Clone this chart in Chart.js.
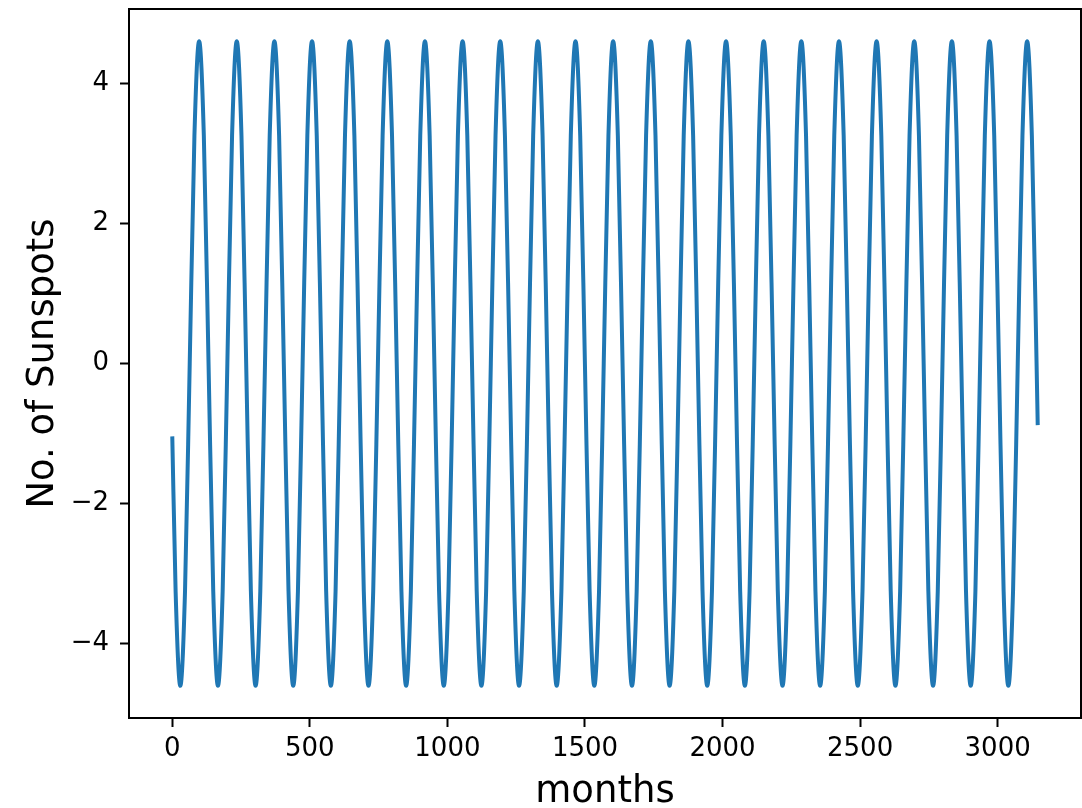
<!DOCTYPE html>
<html lang="en">
<head>
  <meta charset="UTF-8" />
  <title>Sunspots</title>
  <style>
body {
    margin: 0;
    background: #ffffff;
}

#wrap {
    width: 1082px;
    height: 808px;
}
  </style>
</head>
<body>

  <div id="wrap">
    <canvas id="sunChart" width="1082" height="808"></canvas>
  </div>

  <script src="https://cdn.jsdelivr.net/npm/chart.js"></script>

  <script>
    // month index of each sample
    const months = [
      0, 12.1,
      29.2, 46.3, 63.4, 80.5, 97.6, 114.7, 131.8, 148.9,
      166.0, 183.1, 200.2, 217.3, 234.4, 251.5, 268.6, 285.7,
      302.8, 319.9, 337.0, 354.1, 371.2, 388.3, 405.4, 422.5,
      439.6, 456.7, 473.8, 490.9, 508.0, 525.1, 542.2, 559.3,
      576.4, 593.5, 610.6, 627.7, 644.8, 661.9, 679.0, 696.1,
      713.2, 730.3, 747.4, 764.5, 781.6, 798.7, 815.8, 832.9,
      850.0, 867.1, 884.2, 901.3, 918.4, 935.5, 952.6, 969.7,
      986.8, 1003.9, 1021.0, 1038.1, 1055.2, 1072.3, 1089.4, 1106.5,
      1123.6, 1140.7, 1157.8, 1174.9, 1192.0, 1209.1, 1226.2, 1243.3,
      1260.4, 1277.5, 1294.6, 1311.7, 1328.8, 1345.9, 1363.0, 1380.1,
      1397.2, 1414.3, 1431.4, 1448.5, 1465.6, 1482.7, 1499.8, 1516.9,
      1534.0, 1551.1, 1568.2, 1585.3, 1602.4, 1619.5, 1636.6, 1653.7,
      1670.8, 1687.9, 1705.0, 1722.1, 1739.2, 1756.3, 1773.4, 1790.5,
      1807.6, 1824.7, 1841.8, 1858.9, 1876.0, 1893.1, 1910.2, 1927.3,
      1944.4, 1961.5, 1978.6, 1995.7, 2012.8, 2029.9, 2047.0, 2064.1,
      2081.2, 2098.3, 2115.4, 2132.5, 2149.6, 2166.7, 2183.8, 2200.9,
      2218.0, 2235.1, 2252.2, 2269.3, 2286.4, 2303.5, 2320.6, 2337.7,
      2354.8, 2371.9, 2389.0, 2406.1, 2423.2, 2440.3, 2457.4, 2474.5,
      2491.6, 2508.7, 2525.8, 2542.9, 2560.0, 2577.1, 2594.2, 2611.3,
      2628.4, 2645.5, 2662.6, 2679.7, 2696.8, 2713.9, 2731.0, 2748.1,
      2765.2, 2782.3, 2799.4, 2816.5, 2833.6, 2850.7, 2867.8, 2884.9,
      2902.0, 2919.1, 2936.2, 2953.3, 2970.4, 2987.5, 3004.6, 3021.7,
      3038.8, 3055.9, 3073.0, 3090.1, 3107.2, 3124.3, 3141.4,
      3145.6
    ];

    // fitted sunspot cycle value at each sample
    const sunspots = [
      -1.04, -3.25,
      -4.6, -3.25, 0, 3.25, 4.6, 3.25, 0, -3.25,
      -4.6, -3.25, 0, 3.25, 4.6, 3.25, 0, -3.25,
      -4.6, -3.25, 0, 3.25, 4.6, 3.25, 0, -3.25,
      -4.6, -3.25, 0, 3.25, 4.6, 3.25, 0, -3.25,
      -4.6, -3.25, 0, 3.25, 4.6, 3.25, 0, -3.25,
      -4.6, -3.25, 0, 3.25, 4.6, 3.25, 0, -3.25,
      -4.6, -3.25, 0, 3.25, 4.6, 3.25, 0, -3.25,
      -4.6, -3.25, 0, 3.25, 4.6, 3.25, 0, -3.25,
      -4.6, -3.25, 0, 3.25, 4.6, 3.25, 0, -3.25,
      -4.6, -3.25, 0, 3.25, 4.6, 3.25, 0, -3.25,
      -4.6, -3.25, 0, 3.25, 4.6, 3.25, 0, -3.25,
      -4.6, -3.25, 0, 3.25, 4.6, 3.25, 0, -3.25,
      -4.6, -3.25, 0, 3.25, 4.6, 3.25, 0, -3.25,
      -4.6, -3.25, 0, 3.25, 4.6, 3.25, 0, -3.25,
      -4.6, -3.25, 0, 3.25, 4.6, 3.25, 0, -3.25,
      -4.6, -3.25, 0, 3.25, 4.6, 3.25, 0, -3.25,
      -4.6, -3.25, 0, 3.25, 4.6, 3.25, 0, -3.25,
      -4.6, -3.25, 0, 3.25, 4.6, 3.25, 0, -3.25,
      -4.6, -3.25, 0, 3.25, 4.6, 3.25, 0, -3.25,
      -4.6, -3.25, 0, 3.25, 4.6, 3.25, 0, -3.25,
      -4.6, -3.25, 0, 3.25, 4.6, 3.25, 0, -3.25,
      -4.6, -3.25, 0, 3.25, 4.6, 3.25, 0, -3.25,
      -4.6, -3.25, 0, 3.25, 4.6, 3.25, 0,
      -0.88
    ];

    const xTicks = [0, 500, 1000, 1500, 2000, 2500, 3000];
    const xTickLabels = ['0', '500', '1000', '1500', '2000', '2500', '3000'];
    const yTicks = [-4, -2, 0, 2, 4];
    const yTickLabels = ['\u22124', '\u22122', '0', '2', '4'];

    const FONT = "'DejaVu Sans', sans-serif";

    // closes the box (top + right spines) and writes the axis titles
    const frameAndTitles = {
      id: 'frameAndTitles',
      afterDraw(chart) {
        const { ctx, chartArea } = chart;
        ctx.save();
        ctx.strokeStyle = '#000';
        ctx.lineWidth = 2;
        ctx.strokeRect(chartArea.left, chartArea.top,
          chartArea.right - chartArea.left, chartArea.bottom - chartArea.top);

        ctx.fillStyle = '#000';
        ctx.font = '37px ' + FONT;
        ctx.textAlign = 'center';
        ctx.textBaseline = 'alphabetic';
        ctx.fillText('months', (chartArea.left + chartArea.right) / 2, 802);

        ctx.translate(53, (chartArea.top + chartArea.bottom) / 2);
        ctx.rotate(-Math.PI / 2);
        ctx.fillText('No. of Sunspots', 0, 0);
        ctx.restore();
      }
    };

    const points = months.map((m, i) => ({ x: m, y: sunspots[i] }));

    new Chart(document.getElementById('sunChart'), {
      type: 'line',
      data: {
        datasets: [{
          data: points,
          borderColor: '#1f77b4',
          borderWidth: 4,
          pointRadius: 0,
          cubicInterpolationMode: 'monotone',
          fill: false
        }]
      },
      options: {
        responsive: false,
        animation: false,
        layout: { padding: { top: 9, right: 1, left: 0, bottom: 0 } },
        plugins: {
          legend: { display: false },
          tooltip: { enabled: false }
        },
        scales: {
          x: {
            type: 'linear',
            min: -157.3,
            max: 3302.9,
            afterBuildTicks: (s) => { s.ticks = xTicks.map(v => ({ value: v })); },
            afterFit: (s) => {
              s.height = 90;
              s.paddingLeft = 0;
              s.paddingRight = 0;
            },
            grid: {
              drawOnChartArea: false,
              drawTicks: true,
              tickLength: 9,
              tickWidth: 2,
              tickColor: '#000'
            },
            border: { display: true, color: '#000', width: 2 },
            ticks: {
              color: '#000',
              padding: 7,
              maxRotation: 0,
              font: { family: FONT, size: 26 },
              callback: (v) => xTickLabels[xTicks.indexOf(v)]
            }
          },
          y: {
            min: -5.06,
            max: 5.06,
            afterBuildTicks: (s) => { s.ticks = yTicks.map(v => ({ value: v })); },
            afterFit: (s) => {
              s.width = 129;
              s.paddingTop = 0;
              s.paddingBottom = 0;
            },
            grid: {
              drawOnChartArea: false,
              drawTicks: true,
              tickLength: 9,
              tickWidth: 2,
              tickColor: '#000'
            },
            border: { display: true, color: '#000', width: 2 },
            ticks: {
              color: '#000',
              padding: 11,
              font: { family: FONT, size: 26 },
              callback: (v) => yTickLabels[yTicks.indexOf(v)]
            }
          }
        }
      },
      plugins: [frameAndTitles]
    });
  </script>
</body>
</html>
